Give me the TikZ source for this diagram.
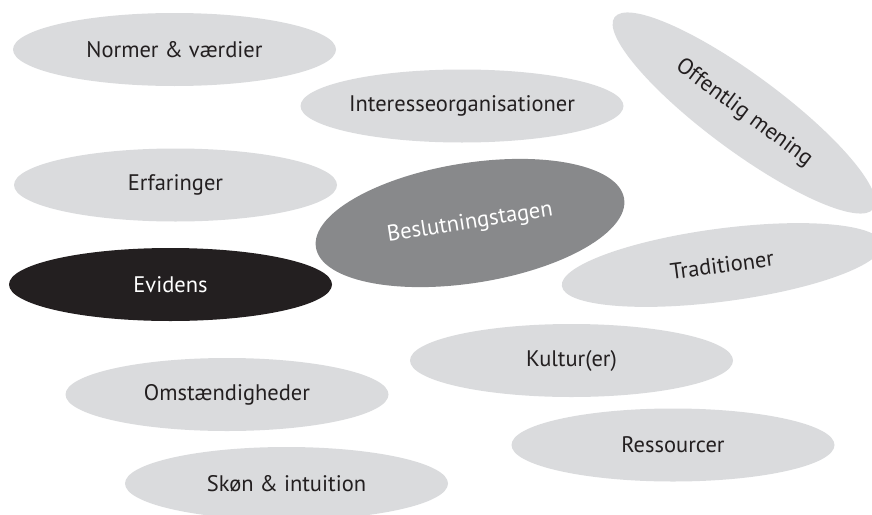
\documentclass[tikz,border=0pt]{standalone}
\usepackage{fontspec}
\setmainfont{PT Sans}
\usetikzlibrary{shapes.geometric}
\definecolor{lightg}{RGB}{218,219,221}
\definecolor{darkg}{RGB}{136,137,139}
\definecolor{inkc}{RGB}{35,31,32}
\tikzset{
  oval/.style={ellipse, fill=lightg, text=inkc, inner sep=0pt,
    minimum width=323pt, minimum height=73pt, font=\fontsize{22.5}{26}\selectfont},
  dark/.style={oval, fill=darkg, text=white},
  black/.style={oval, fill=inkc, text=white}
}
\begin{document}
\begin{tikzpicture}[x=1pt,y=1pt]
\useasboundingbox (0,0) rectangle (872,-514);
\node[oval] (normer) at (174.5,-49.5) {Normer \& værdier};
\node[oval] (interesse) at (462,-106) {Interesseorganisationer};
\node[oval, rotate=-36.5, minimum width=322pt, minimum height=76pt] (offentlig) at (744,-113) {Offentlig mening};
\node[oval] (erfaringer) at (175.5,-185) {Erfaringer};
\node[dark, rotate=9, minimum width=312pt, minimum height=120pt] (beslutning) at (470,-223) {Beslutningstagen};
\node[black] (evidens) at (170.5,-284.5) {Evidens};
\node[oval, rotate=7.5] (traditioner) at (722,-265) {Traditioner};
\node[oval] (kultur) at (571.5,-360.5) {Kultur(er)};
\node[oval] (omst) at (227,-394.5) {Omstændigheder};
\node[oval] (ressourcer) at (673,-445) {Ressourcer};
\node[oval] (skon) at (286.5,-483.5) {Skøn \& intuition};
\end{tikzpicture}
\end{document}
